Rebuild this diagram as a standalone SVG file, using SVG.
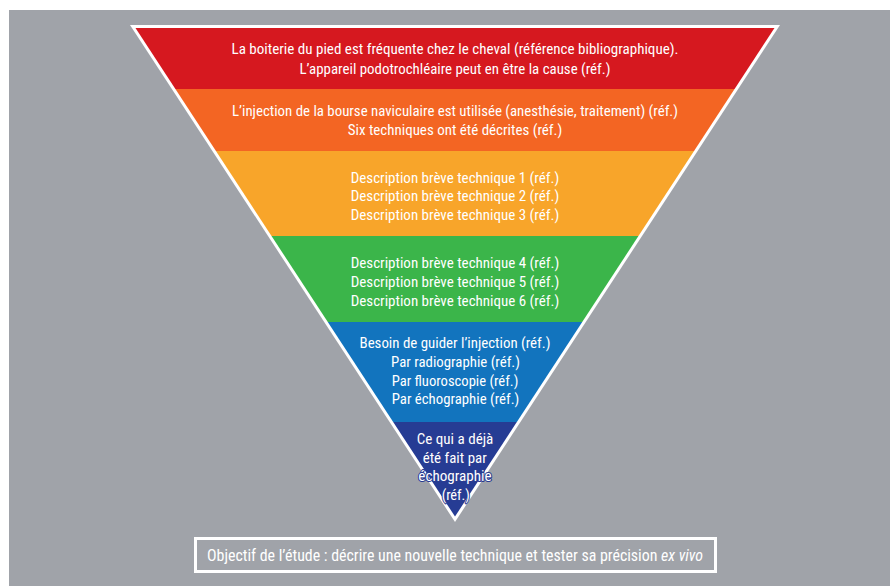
<svg xmlns="http://www.w3.org/2000/svg" width="890" height="586" viewBox="0 0 890 586">
  <defs>
    <style>
      .t { font-family: "Liberation Sans Narrow", "Roboto Condensed", "Liberation Sans", Arial, sans-serif; font-size: 14.5px; fill: #ffffff; text-anchor: middle; }
      .halo { stroke: #2a3d92; stroke-width: 2; paint-order: stroke; stroke-linejoin: round; }
      .b { font-size: 16px; }
    </style>
    <clipPath id="tri">
      <polygon points="135.5,28 774.5,28 455,516.5"/>
    </clipPath>
  </defs>
  <rect x="9" y="10" width="881" height="576" fill="#a0a3a9"/>
  <polygon points="130,25 780,25 455,522" fill="#ffffff"/>
  <g clip-path="url(#tri)">
    <rect id="band1" x="100" y="20" width="700" height="69" fill="#d6181f"/>
    <rect id="band2" x="100" y="89" width="700" height="62" fill="#f36523"/>
    <rect id="band3" x="100" y="151" width="700" height="85" fill="#f8a52a"/>
    <rect id="band4" x="100" y="236" width="700" height="86" fill="#3bb54a"/>
    <rect id="band5" x="100" y="322" width="700" height="100" fill="#1274be"/>
    <rect id="band6" x="100" y="422" width="700" height="110" fill="#263c94"/>
  </g>
  <g id="level1" class="t">
    <text x="455" y="54" textLength="447" lengthAdjust="spacingAndGlyphs">La boiterie du pied est fréquente chez le cheval (référence bibliographique).</text>
    <text x="455" y="73.7" textLength="311" lengthAdjust="spacingAndGlyphs">L’appareil podotrochléaire peut en être la cause (réf.)</text>
  </g>
  <g id="level2" class="t">
    <text x="455" y="116" textLength="446" lengthAdjust="spacingAndGlyphs">L’injection de la bourse naviculaire est utilisée (anesthésie, traitement) (réf.)</text>
    <text x="455" y="134.8" textLength="214.6" lengthAdjust="spacingAndGlyphs">Six techniques ont été décrites (réf.)</text>
  </g>
  <g id="level3" class="t">
    <text x="455" y="182.7" textLength="208.6" lengthAdjust="spacingAndGlyphs">Description brève technique 1 (réf.)</text>
    <text x="455" y="201.3" textLength="208.6" lengthAdjust="spacingAndGlyphs">Description brève technique 2 (réf.)</text>
    <text x="455" y="220" textLength="208.6" lengthAdjust="spacingAndGlyphs">Description brève technique 3 (réf.)</text>
  </g>
  <g id="level4" class="t">
    <text x="455" y="267.7" textLength="208.6" lengthAdjust="spacingAndGlyphs">Description brève technique 4 (réf.)</text>
    <text x="455" y="286.5" textLength="208.6" lengthAdjust="spacingAndGlyphs">Description brève technique 5 (réf.)</text>
    <text x="455" y="305.7" textLength="208.6" lengthAdjust="spacingAndGlyphs">Description brève technique 6 (réf.)</text>
  </g>
  <g id="level5" class="t">
    <text x="455" y="348" textLength="191" lengthAdjust="spacingAndGlyphs">Besoin de guider l’injection (réf.)</text>
    <text x="455.5" y="367" textLength="129" lengthAdjust="spacingAndGlyphs">Par radiographie (réf.)</text>
    <text x="455" y="385.7" textLength="126.7" lengthAdjust="spacingAndGlyphs">Par fluoroscopie (réf.)</text>
    <text x="455.5" y="403.7" textLength="127.6" lengthAdjust="spacingAndGlyphs">Par échographie (réf.)</text>
  </g>
  <g id="level6" class="t halo">
    <text x="455" y="444" textLength="76.7" lengthAdjust="spacingAndGlyphs">Ce qui a déjà</text>
    <text x="454.7" y="462.5" textLength="64" lengthAdjust="spacingAndGlyphs">été fait par</text>
    <text x="455" y="481" textLength="73.3" lengthAdjust="spacingAndGlyphs">échographie</text>
    <text x="455.8" y="499.5" textLength="28.3" lengthAdjust="spacingAndGlyphs">(réf.)</text>
  </g>
  <g id="objective">
    <rect x="195.5" y="538.5" width="520" height="33" fill="none" stroke="#ffffff" stroke-width="3"/>
    <text class="t b" x="455" y="561" textLength="496" lengthAdjust="spacingAndGlyphs">Objectif de l’étude : décrire une nouvelle technique et tester sa précision <tspan font-style="italic">ex vivo</tspan></text>
  </g>
</svg>
